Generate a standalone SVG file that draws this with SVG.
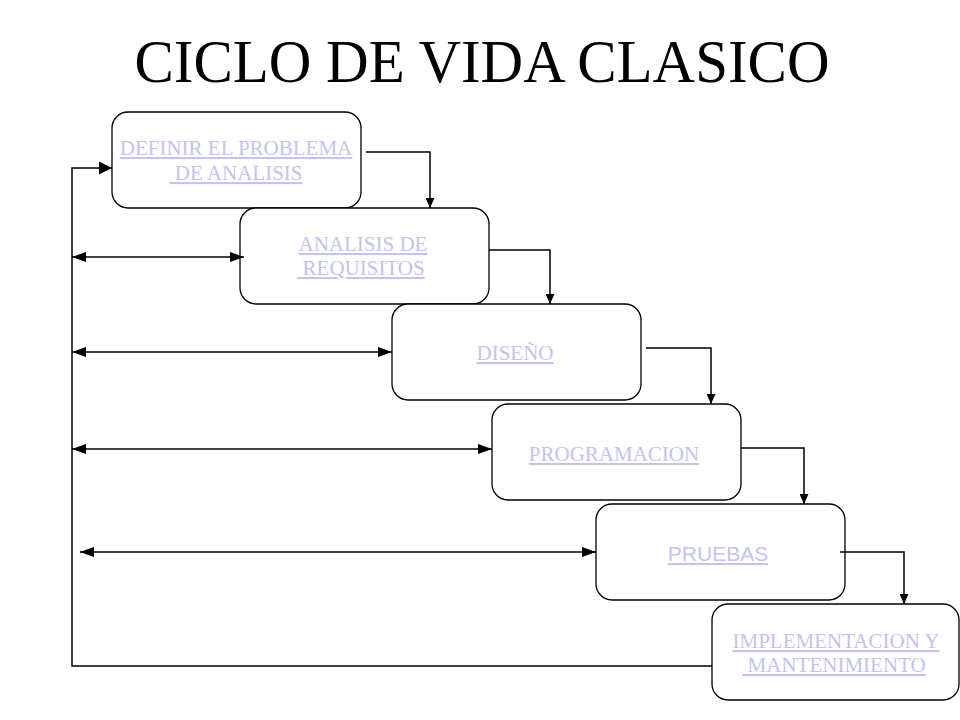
<svg xmlns="http://www.w3.org/2000/svg" width="960" height="720" viewBox="0 0 960 720">
<style>
.box{fill:#ffffff;stroke:#000000;stroke-width:1.3}
.lbl{font-family:"Liberation Serif","Times New Roman",serif;font-size:21px;fill:#c3c3ee;text-anchor:middle;text-decoration:underline}
.sans{font-family:"Liberation Sans",Arial,sans-serif}
.ln{fill:none;stroke:#000000;stroke-width:1.5}
.title{font-family:"Liberation Serif","Times New Roman",serif;font-size:61px;fill:#000000;text-anchor:middle}
</style>
<defs>
<marker id="ah" viewBox="0 0 14 10" refX="14" refY="5" markerWidth="14" markerHeight="10" markerUnits="userSpaceOnUse" orient="auto-start-reverse">
<path d="M0,0 L14,5 L0,10 z" fill="#000"/>
</marker>
<marker id="ab" viewBox="0 0 13 13" refX="13" refY="6.5" markerWidth="13" markerHeight="13" markerUnits="userSpaceOnUse" orient="auto">
<path d="M0,0 L13,6.5 L0,13 z" fill="#000"/>
</marker>
<marker id="ad" viewBox="0 0 10 9" refX="10" refY="4.5" markerWidth="10" markerHeight="9" markerUnits="userSpaceOnUse" orient="auto">
<path d="M0,0 L10,4.5 L0,9 z" fill="#000"/>
</marker>
</defs>
<rect width="960" height="720" fill="#ffffff"/>
<text class="title" x="482" y="82" textLength="695" lengthAdjust="spacingAndGlyphs">CICLO DE VIDA CLASICO</text>
<g id="n1"><rect class="box" x="112" y="112" width="249" height="96" rx="16"/>
<text class="lbl" x="236" y="155">DEFINIR EL PROBLEMA</text>
<text class="lbl" x="236" y="180" xml:space="preserve"> DE ANALISIS</text></g>
<g id="n2"><rect class="box" x="240" y="208" width="249" height="96" rx="16"/>
<text class="lbl" x="363" y="251">ANALISIS DE</text>
<text class="lbl" x="361" y="275" xml:space="preserve"> REQUISITOS</text></g>
<g id="n3"><rect class="box" x="392" y="304" width="249" height="96" rx="16"/>
<text class="lbl" x="515" y="360">DISEÑO</text></g>
<g id="n4"><rect class="box" x="492" y="404" width="249" height="96" rx="16"/>
<text class="lbl" x="614" y="461">PROGRAMACION</text></g>
<g id="n5"><rect class="box" x="596" y="504" width="249" height="96" rx="16"/>
<text class="lbl sans" x="718" y="561">PRUEBAS</text></g>
<g id="n6"><rect class="box" x="712" y="604" width="247" height="96" rx="16"/>
<text class="lbl" x="836" y="648">IMPLEMENTACION Y</text>
<text class="lbl" x="834" y="672" xml:space="preserve"> MANTENIMIENTO</text></g>
<g id="connectors">
<polyline class="ln" points="366,152 430,152 430,208" marker-end="url(#ad)"/>
<polyline class="ln" points="489,250 550,250 550,304" marker-end="url(#ad)"/>
<polyline class="ln" points="646,348 711,348 711,404" marker-end="url(#ad)"/>
<polyline class="ln" points="741,448 804,448 804,504" marker-end="url(#ad)"/>
<polyline class="ln" points="840,552 904,552 904,604" marker-end="url(#ad)"/>
<polyline class="ln" points="712,666 72,666 72,168 112,168" marker-end="url(#ab)"/>
<line class="ln" x1="72" y1="257" x2="244" y2="257" marker-start="url(#ah)" marker-end="url(#ah)"/>
<line class="ln" x1="72" y1="352" x2="392" y2="352" marker-start="url(#ah)" marker-end="url(#ah)"/>
<line class="ln" x1="72" y1="449" x2="492" y2="449" marker-start="url(#ah)" marker-end="url(#ah)"/>
<line class="ln" x1="80" y1="552" x2="596" y2="552" marker-start="url(#ah)" marker-end="url(#ah)"/>
</g>
</svg>
